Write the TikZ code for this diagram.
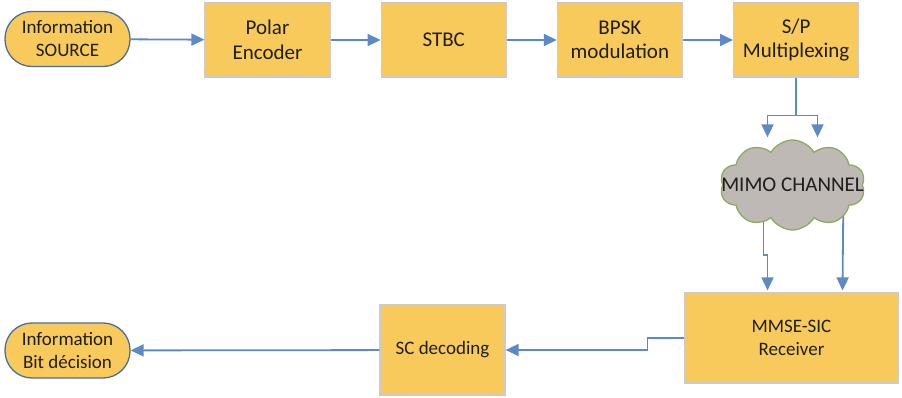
\documentclass[tikz,border=0pt]{standalone}
\usepackage{fontspec}
\setmainfont{Carlito}
\usetikzlibrary{positioning, calc, arrows.meta, shapes.symbols}
\pgfdeclarelayer{background}
\pgfsetlayers{background,main}
\definecolor{boxfill}{HTML}{F8CA5C}
\definecolor{boxline}{HTML}{CDCBC8}
\definecolor{termline}{HTML}{4A6E9C}
\definecolor{flowblue}{HTML}{5B8AC6}
\definecolor{cloudfill}{HTML}{BEB9B5}
\definecolor{cloudline}{HTML}{8DAA5E}
\definecolor{txt}{HTML}{1E1E1E}

\begin{document}
\begin{tikzpicture}[
    x=1pt, y=-1pt,
    block/.style={draw=boxline, line width=1.2pt, fill=boxfill, minimum width=125pt, minimum height=74pt, align=center, text=txt, font=\fontsize{19}{23.5}\selectfont},
    bigtext/.style={font=\fontsize{21}{24.5}\selectfont},
    terminal/.style={draw=termline, line width=1.3pt, fill=boxfill, rounded corners=27pt, minimum width=125pt, minimum height=55pt, align=center, text=txt, font=\fontsize{19}{23}\selectfont},
    flow/.style={draw=flowblue, line width=1.8pt, -{Triangle[length=13pt, width=12pt]}},
]
\useasboundingbox (0,0) rectangle (902,398);

% ── transmitter chain ──
\node[terminal] (src) at (67.5,39) {Information\\SOURCE};
\node[block, bigtext] (polar) at (267.5,40) {Polar\\Encoder};
\node[block, bigtext, right=50pt of polar] (stbc) {STBC};
\node[block, bigtext, right=50pt of stbc] (bpsk) {BPSK\\modulation};
\node[block, bigtext, right=50pt of bpsk] (sp) {S/P\\Multiplexing};

% ── channel ──
\node[cloud, cloud puffs=10, cloud puff arc=120, cloud ignores aspect, draw=cloudline, line width=1.3pt, fill=cloudfill, minimum width=145pt, minimum height=90pt, label={[text=txt, font=\fontsize{21}{24}\selectfont]center:MIMO CHANNEL}] (cloud) at (792.5,185) {};

% ── receiver chain ──
\node[block, minimum width=213pt, minimum height=90pt] (mmse) at (791.5,338) {MMSE-SIC\\Receiver};
\node[block, minimum height=90pt] (sc) at (442.5,350) {SC decoding};
\node[terminal] (bit) at (67.5,350.5) {Information\\Bit décision};

% ── connectors ──
\draw[flow] (src) -- (polar);
\draw[flow] (polar) -- (stbc);
\draw[flow] (stbc) -- (bpsk);
\draw[flow] (bpsk) -- (sp);

\draw[flowblue, line width=1.8pt] (sp.south) -- ++(0,38) coordinate (fork);
\draw[flow] (fork) -| ($(cloud.north)+(-25,-2)$);
\draw[flow] (fork) -| ($(cloud.north)+(25,-2)$);

\begin{pgfonlayer}{background}
\draw[flow] ($(cloud.center)+(-29,0)$) -- ++(0,70) -| ($(mmse.north)+(-24,-2)$);
\draw[flow] ($(cloud.center)+(51,0)$) -- ($(mmse.north)+(51,-2)$);
\end{pgfonlayer}

\draw[flow] (mmse.west) -- ++(-37,0) |- (sc.east);
\draw[flow] (sc) -- (bit);

\end{tikzpicture}
\end{document}
